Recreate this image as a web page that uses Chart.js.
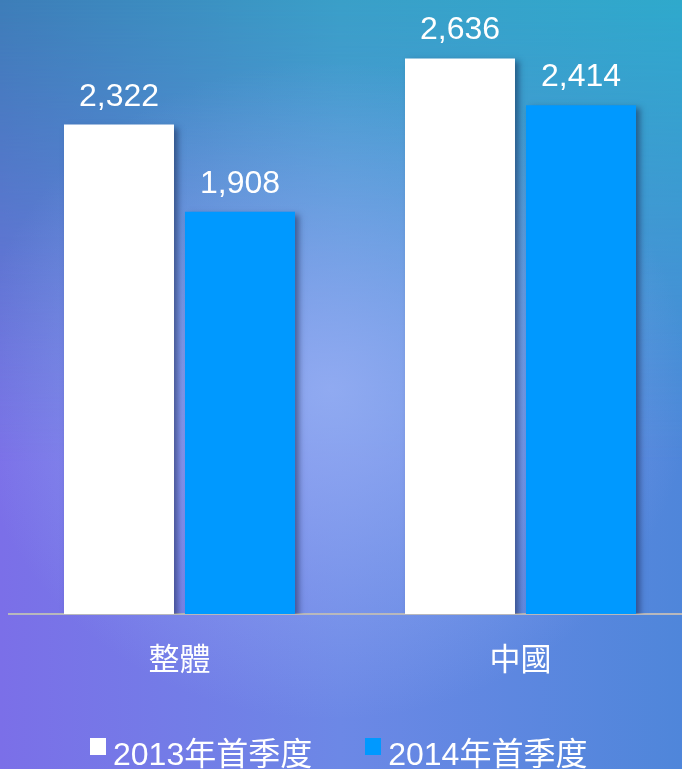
<!DOCTYPE html>
<html>
<head>
<meta charset="utf-8">
<script src="https://cdn.jsdelivr.net/npm/chart.js@4"></script>
<style>
  html, body { margin: 0; padding: 0; }
  body {
    width: 682px; height: 769px; overflow: hidden; position: relative;
    background: linear-gradient(to right, #7b6fe8, #6c88e6 50%, #4f86da);
  }
  #topTint {
    position: absolute; left: 0; top: 0; width: 682px; height: 769px;
    background: linear-gradient(to right, #3d7db8, #3a9fc8 50%, #2fa9cc);
    -webkit-mask-image: linear-gradient(to bottom, black 0%, rgba(0,0,0,0.6) 25%, transparent 60%);
    mask-image: linear-gradient(to bottom, black 0%, rgba(0,0,0,0.6) 25%, transparent 60%);
  }
  #glow {
    position: absolute; left: 0; top: 0; width: 682px; height: 769px;
    background: radial-gradient(ellipse 360px 330px at 330px 390px, rgba(155,178,245,0.8), rgba(155,178,245,0) 100%);
  }
  #wrap { position: absolute; left: 0; top: 0; width: 700px; height: 769px; }
  #legend {
    position: absolute; left: 90px; top: 736px; display: flex;
    font-family: "Liberation Sans", "Noto Sans CJK TC", sans-serif; font-size: 32px; color: #fff;
  }
  .item { display: flex; align-items: flex-start; margin-right: 53px; }
  .box { width: 16px; height: 17px; margin-top: 2px; margin-right: 7px; }
  .lbl { line-height: 36px; }
</style>
</head>
<body>
<div id="topTint"></div>
<div id="glow"></div>
<div id="wrap"><canvas id="chart" width="700" height="769"></canvas></div>
<div id="legend"></div>
<script>
  var categories = ['整體', '中國'];
  var seriesNames = ['2013年首季度', '2014年首季度'];
  var values2013 = [2322, 2636];
  var values2014 = [1908, 2414];
  var colors = ['#ffffff', '#0099ff'];

  var shadowPlugin = {
    id: 'barShadow',
    beforeDatasetsDraw: function (chart) {
      var ctx = chart.ctx;
      ctx.save();
      ctx.shadowColor = 'rgba(20,30,70,0.5)';
      ctx.shadowBlur = 6;
      ctx.shadowOffsetX = 4;
      ctx.shadowOffsetY = 3;
    },
    afterDatasetsDraw: function (chart) {
      chart.ctx.restore();
    }
  };

  var labelPlugin = {
    id: 'valueLabels',
    afterDatasetsDraw: function (chart) {
      var ctx = chart.ctx;
      ctx.save();
      ctx.font = '32px "Liberation Sans", Arial, sans-serif';
      ctx.fillStyle = '#ffffff';
      ctx.textAlign = 'center';
      ctx.textBaseline = 'alphabetic';
      chart.data.datasets.forEach(function (ds, i) {
        chart.getDatasetMeta(i).data.forEach(function (bar, j) {
          ctx.fillText(ds.data[j].toLocaleString('en-US'), bar.x, bar.y - 19);
        });
      });
      ctx.restore();
    }
  };

  var chart = new Chart(document.getElementById('chart'), {
    type: 'bar',
    data: {
      labels: categories,
      datasets: [
        { label: seriesNames[0], data: values2013, backgroundColor: colors[0] },
        { label: seriesNames[1], data: values2014, backgroundColor: colors[1] }
      ]
    },
    options: {
      responsive: false,
      animation: false,
      layout: { padding: { left: 9, right: 9, top: 0, bottom: 0 } },
      datasets: { bar: { categoryPercentage: 0.7097, barPercentage: 0.909 } },
      plugins: { legend: { display: false }, tooltip: { enabled: false } },
      scales: {
        x: {
          z: 1,
          grid: { display: false, drawTicks: false },
          border: { display: true, color: '#b8b8bc', width: 2 },
          ticks: {
            color: '#ffffff', padding: 29,
            font: { family: '"Liberation Sans", "Noto Sans CJK TC", sans-serif', size: 31 }
          },
          afterFit: function (scale) { scale.height = 155; }
        },
        y: { display: false, min: 0, max: 2913 }
      }
    },
    plugins: [shadowPlugin, labelPlugin]
  });

  var legend = document.getElementById('legend');
  chart.data.datasets.forEach(function (ds) {
    var item = document.createElement('div');
    item.className = 'item';
    var box = document.createElement('div');
    box.className = 'box';
    box.style.background = ds.backgroundColor;
    var lbl = document.createElement('div');
    lbl.className = 'lbl';
    lbl.textContent = ds.label;
    item.appendChild(box);
    item.appendChild(lbl);
    legend.appendChild(item);
  });
</script>
</body>
</html>
